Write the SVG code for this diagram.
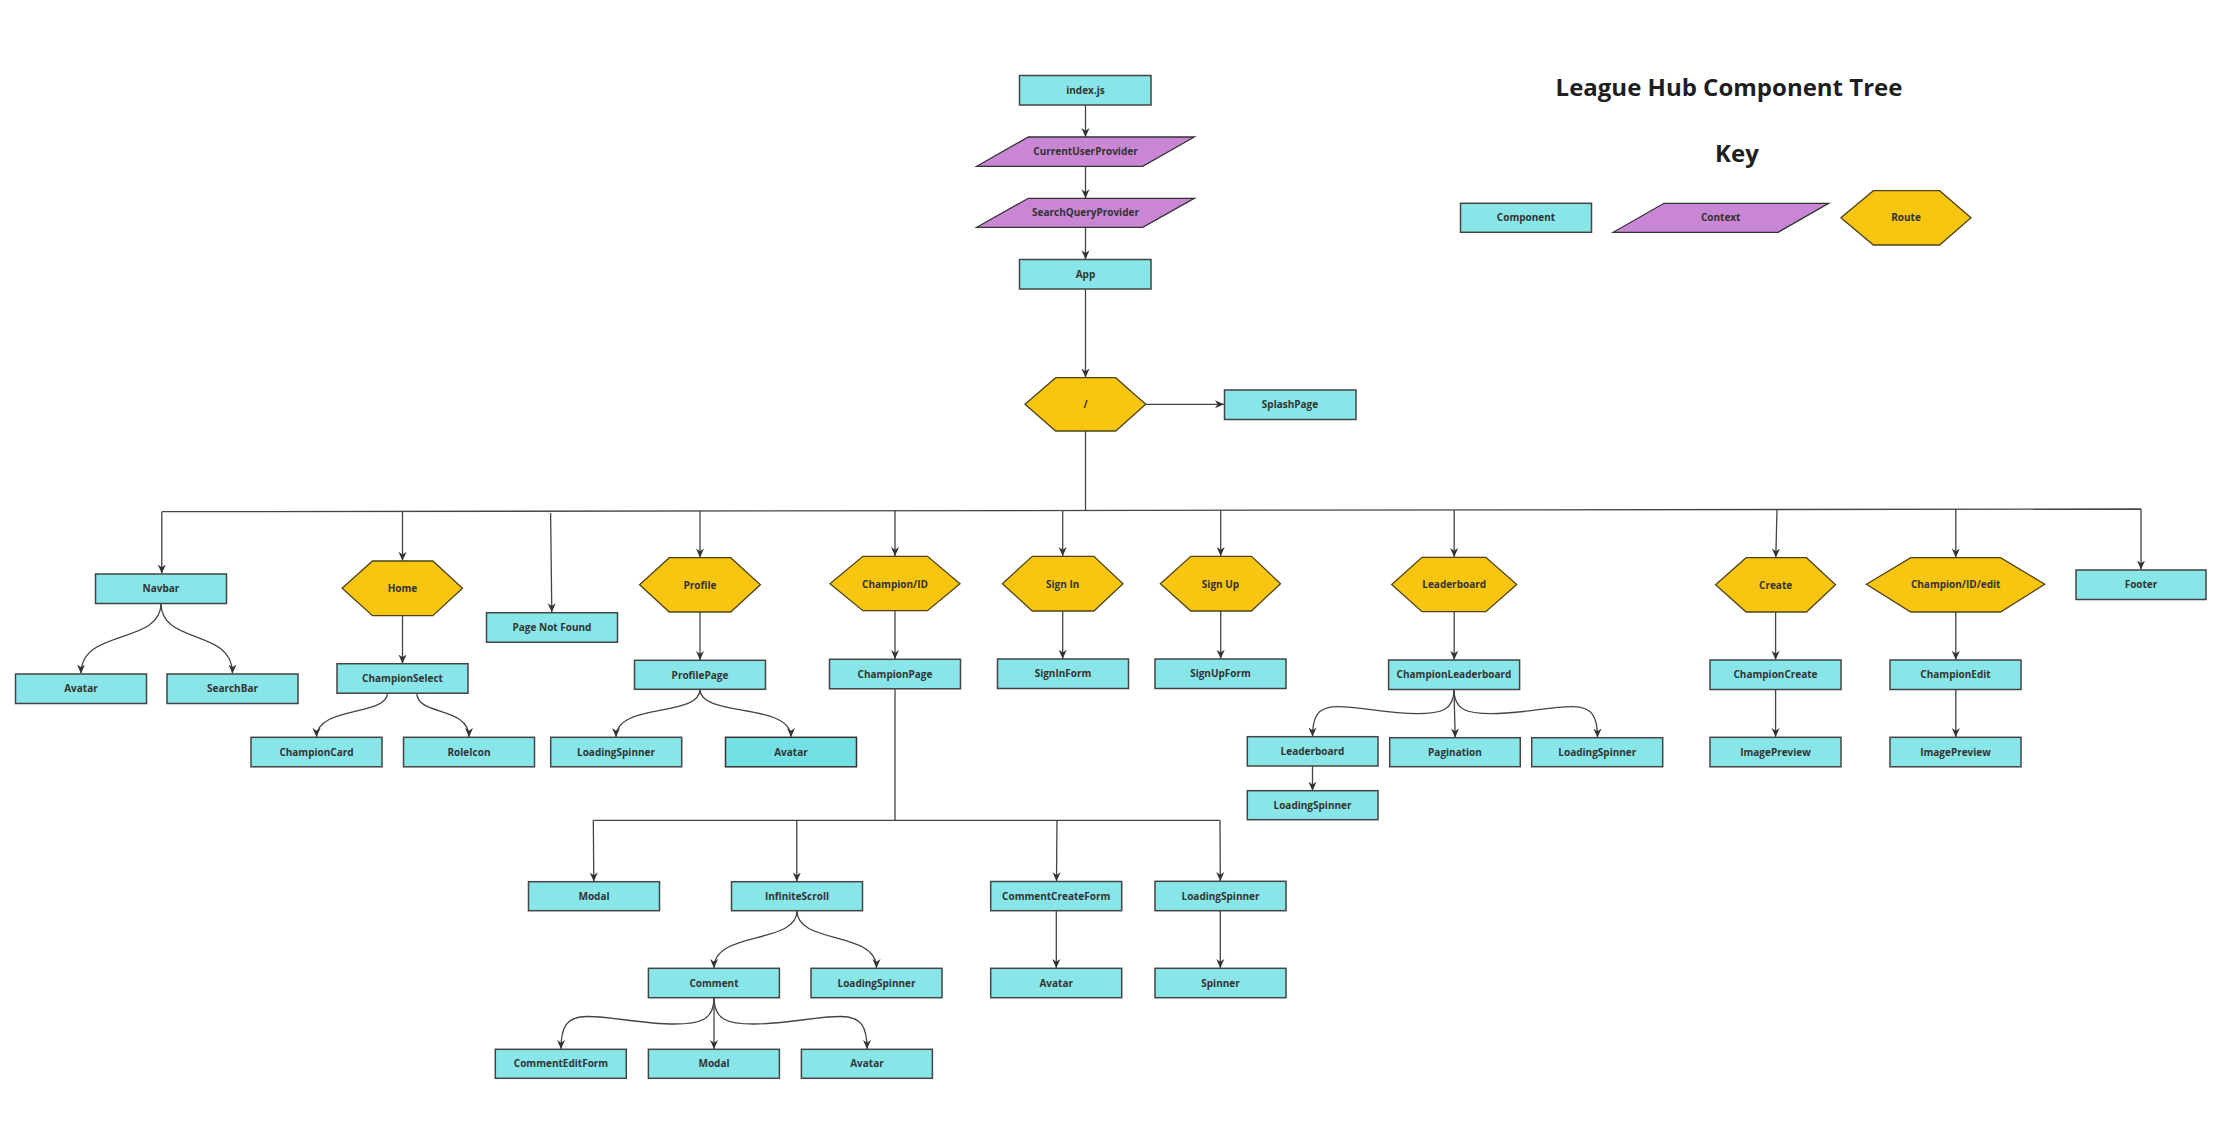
<svg xmlns="http://www.w3.org/2000/svg" width="2224" height="1147" viewBox="0 0 2224 1147">
<style>
.c{fill:#88e6e8;stroke:#444;stroke-width:1.5}
.cd{fill:#72e0e4;stroke:#333;stroke-width:1.5}
.p{fill:#c886d4;stroke:#333;stroke-width:1.3}
.h{fill:#f8c511;stroke:#4e431c;stroke-width:1.3}
.t{font-family:"Open Sans","Liberation Sans",sans-serif;font-weight:700;font-size:10px;fill:#333;text-anchor:middle}
.ttl{font-family:"Open Sans","Liberation Sans",sans-serif;font-weight:700;font-size:24px;fill:#1e1e1e;text-anchor:middle}
.e{fill:none;stroke:#444;stroke-width:1.3}
.a{marker-end:url(#arr)}
</style>
<defs>
<marker id="arr" viewBox="0 0 10 10" refX="10" refY="5" markerWidth="9" markerHeight="9" markerUnits="userSpaceOnUse" orient="auto">
<path d="M0,0.5 L10,5 L0,9.5 L3,5 Z" fill="#333"/>
</marker>
</defs>
<rect width="2224" height="1147" fill="#ffffff"/>

<g id="title">
<text class="ttl" x="1729" y="96">League Hub Component Tree</text>
<text class="ttl" x="1737" y="162">Key</text>
</g>

<g id="connectors">
<path class="e a" d="M1085.5,105 L1085.5,137"/>
<path class="e a" d="M1085.5,166.3 L1085.5,198.3"/>
<path class="e a" d="M1085.5,227.3 L1085.5,259.3"/>
<path class="e a" d="M1085.5,289.3 L1085.5,377.5"/>
<path class="e a" d="M1146,404.3 L1224,404.3"/>
<path class="e" d="M1085.5,431 L1085.5,510.4"/>
<path class="e" d="M161.8,511.7 L2141,509"/>
<path class="e a" d="M161.8,511.7 L161.8,573.5"/>
<path class="e a" d="M402.5,511.4 L402.5,560.8"/>
<path class="e a" d="M550.6,513 L551.8,612.3"/>
<path class="e a" d="M700,511 L700,557.5"/>
<path class="e a" d="M895,510.7 L895,556"/>
<path class="e a" d="M1062.7,510.5 L1062.7,556"/>
<path class="e a" d="M1220.7,510.3 L1220.7,556"/>
<path class="e a" d="M1454.2,510 L1454.2,557"/>
<path class="e a" d="M1777,509.5 L1775.8,557.5"/>
<path class="e a" d="M1955.8,509.3 L1955.8,557.5"/>
<path class="e a" d="M2141,509 L2141,569.5"/>

<path class="e a" d="M161,603.5 C161,645 81,628 81,673.5"/>
<path class="e a" d="M161,603.5 C161,645 232.5,628 232.5,673.5"/>
<path class="e a" d="M402.5,615.7 L402.5,663.5"/>
<path class="e a" d="M387.5,693 C387.5,716 316.5,706 316.5,737"/>
<path class="e a" d="M416.8,693 C416.8,716 469,706 469,737"/>
<path class="e a" d="M700,612 L700,660"/>
<path class="e a" d="M700,689.3 C700,718 616,702 616,737"/>
<path class="e a" d="M700,689.3 C700,718 791,702 791,737"/>
<path class="e a" d="M895,610.7 L895,659"/>
<path class="e a" d="M1062.7,611 L1062.7,658.8"/>
<path class="e a" d="M1220.7,611 L1220.7,658.8"/>
<path class="e a" d="M1454.2,611.7 L1454.2,659.8"/>
<path class="e a" d="M1454,689.5 C1454,710 1441.3,713.7 1417.2,713.7 C1386.1,713.7 1357.8,706.2 1336.6,706.7 C1317,707 1312.5,717.4 1312.5,736.5"/>
<path class="e a" d="M1454,689.5 L1455.2,737.5"/>
<path class="e a" d="M1454,689.5 C1454,710 1466.9,713.7 1491.3,713.7 C1522.9,713.7 1551.6,706.2 1573.1,706.7 C1592.7,707 1597.5,717.4 1597.5,737.5"/>
<path class="e a" d="M1312.5,766 L1312.5,790.7"/>
<path class="e a" d="M1775.6,612 L1775.6,659.8"/>
<path class="e a" d="M1775.6,689.3 L1775.6,737"/>
<path class="e a" d="M1955.8,612 L1955.8,659.8"/>
<path class="e a" d="M1955.8,689.3 L1955.8,737"/>

<path class="e" d="M895,688.7 L895,820.3"/>
<path class="e" d="M593.3,820.3 L1220,820.3"/>
<path class="e a" d="M593.3,820.3 L593.8,881.5"/>
<path class="e a" d="M796.8,820.3 L796.8,881.5"/>
<path class="e a" d="M1057,820.3 L1056.5,881.3"/>
<path class="e a" d="M1220,820.3 L1220.3,881"/>
<path class="e a" d="M797,910.7 C797,945 714,930 714,968"/>
<path class="e a" d="M797,910.7 C797,945 876.5,930 876.5,968"/>
<path class="e a" d="M1056.3,910.7 L1056.3,968"/>
<path class="e a" d="M1220.3,910.7 L1220.3,968"/>
<path class="e a" d="M714,997.7 C714,1020 700.2,1024 674.2,1024 C640.6,1024 610,1016 587,1016.5 C565.6,1016.5 561,1028 561,1049"/>
<path class="e a" d="M714,997.7 L714,1049"/>
<path class="e a" d="M714,997.7 C714,1020 727.8,1024 753.8,1024 C787.4,1024 818,1016 841,1016.5 C862.4,1016.5 867,1028 867,1049"/>
</g>

<g id="key-component"><rect class="c" x="1460.5" y="203.3" width="131" height="29"/><text class="t" x="1526" y="221.3">Component</text></g>
<g id="key-context"><polygon class="p" points="1664,203.3 1828.6,203.3 1778.1,232.3 1613.2,232.3"/><text class="t" x="1720.7" y="221.3">Context</text></g>
<g id="key-route"><polygon class="h" points="1840.9,217.7 1873.4,190.7 1939.6,190.7 1971,217.7 1939.6,245 1873.4,245"/><text class="t" x="1906" y="221.3">Route</text></g>

<g id="index"><rect class="c" x="1019.5" y="75.5" width="131.5" height="29.5"/><text class="t" x="1085.5" y="93.5">index.js</text></g>
<g id="currentuserprovider"><polygon class="p" points="1028.3,137 1194.3,137 1142.7,166.3 976.7,166.3"/><text class="t" x="1085.5" y="155.2">CurrentUserProvider</text></g>
<g id="searchqueryprovider"><polygon class="p" points="1028.3,198.3 1194.3,198.3 1142.7,227.3 976.7,227.3"/><text class="t" x="1085.5" y="216.3">SearchQueryProvider</text></g>
<g id="app"><rect class="c" x="1019.5" y="259.5" width="131.5" height="29.5"/><text class="t" x="1085.5" y="277.8">App</text></g>
<g id="root-route"><polygon class="h" points="1025,404.3 1055.7,377.7 1115.7,377.7 1145.7,404.3 1115.7,431 1055.7,431"/><text class="t" x="1085.5" y="408">/</text></g>
<g id="splashpage"><rect class="c" x="1224.5" y="390" width="131.5" height="29.5"/><text class="t" x="1290" y="408.3">SplashPage</text></g>

<g id="navbar"><rect class="c" x="95.5" y="574" width="131" height="29.5"/><text class="t" x="161" y="592.3">Navbar</text></g>
<g id="navbar-avatar"><rect class="c" x="15.5" y="674" width="131" height="29.5"/><text class="t" x="81" y="692.3">Avatar</text></g>
<g id="searchbar"><rect class="c" x="167" y="674" width="131" height="29.5"/><text class="t" x="232.5" y="692.3">SearchBar</text></g>

<g id="home"><polygon class="h" points="342.1,588.3 372.5,561 432.9,561 462.5,588.3 432.9,615.7 372.5,615.7"/><text class="t" x="402.5" y="592">Home</text></g>
<g id="championselect"><rect class="c" x="337" y="663.7" width="131" height="29.5"/><text class="t" x="402.5" y="682">ChampionSelect</text></g>
<g id="championcard"><rect class="c" x="251" y="737.3" width="131" height="29.5"/><text class="t" x="316.5" y="755.6">ChampionCard</text></g>
<g id="roleicon"><rect class="c" x="403.5" y="737.3" width="131" height="29.5"/><text class="t" x="469" y="755.6">RoleIcon</text></g>

<g id="pagenotfound"><rect class="c" x="486.5" y="612.7" width="131" height="29.5"/><text class="t" x="552" y="631">Page Not Found</text></g>

<g id="profile"><polygon class="h" points="639.6,584.7 669.3,557.7 730.7,557.7 760.4,584.7 730.7,612 669.3,612"/><text class="t" x="700" y="588.5">Profile</text></g>
<g id="profilepage"><rect class="c" x="634.5" y="660.3" width="131" height="29"/><text class="t" x="700" y="678.5">ProfilePage</text></g>
<g id="profile-loadingspinner"><rect class="c" x="550.7" y="737.3" width="131" height="29.5"/><text class="t" x="616" y="755.6">LoadingSpinner</text></g>
<g id="profile-avatar"><rect class="cd" x="725.5" y="737.3" width="131" height="29.5"/><text class="t" x="791" y="755.6">Avatar</text></g>

<g id="championid"><polygon class="h" points="830,583.7 862.9,556.3 927.5,556.3 960,583.7 927.5,610.7 862.9,610.7"/><text class="t" x="895" y="587.5">Champion/ID</text></g>
<g id="championpage"><rect class="c" x="829.5" y="659.3" width="131" height="29.5"/><text class="t" x="895" y="677.6">ChampionPage</text></g>

<g id="signin"><polygon class="h" points="1002.4,583.7 1032.3,556.3 1093.9,556.3 1123,583.7 1093.9,611 1032.3,611"/><text class="t" x="1062.7" y="587.5">Sign In</text></g>
<g id="signinform"><rect class="c" x="997.5" y="659" width="131" height="29.5"/><text class="t" x="1063" y="677.3">SignInForm</text></g>
<g id="signup"><polygon class="h" points="1160.4,583.7 1190.8,556.3 1251.5,556.3 1280.5,583.7 1251.5,611 1190.8,611"/><text class="t" x="1220.5" y="587.5">Sign Up</text></g>
<g id="signupform"><rect class="c" x="1155" y="659" width="131" height="29.5"/><text class="t" x="1220.5" y="677.3">SignUpForm</text></g>

<g id="leaderboard-route"><polygon class="h" points="1391.7,584.5 1422,557.3 1485.9,557.3 1516.7,584.5 1485.9,611.7 1422,611.7"/><text class="t" x="1454.2" y="588.3">Leaderboard</text></g>
<g id="championleaderboard"><rect class="c" x="1388.6" y="660" width="131" height="29.5"/><text class="t" x="1454" y="678.3">ChampionLeaderboard</text></g>
<g id="leaderboard"><rect class="c" x="1247.3" y="736.7" width="130.7" height="29.3"/><text class="t" x="1312.5" y="754.8">Leaderboard</text></g>
<g id="pagination"><rect class="c" x="1389.7" y="737.7" width="130.6" height="29"/><text class="t" x="1455" y="755.8">Pagination</text></g>
<g id="lb-loadingspinner"><rect class="c" x="1531.7" y="737.7" width="131" height="29"/><text class="t" x="1597.3" y="755.8">LoadingSpinner</text></g>
<g id="lb-loadingspinner2"><rect class="c" x="1247.3" y="790.7" width="130.7" height="29"/><text class="t" x="1312.5" y="808.8">LoadingSpinner</text></g>

<g id="create"><polygon class="h" points="1715.6,584.7 1746.1,557.7 1806.5,557.7 1835.5,584.7 1806.5,612 1746.1,612"/><text class="t" x="1775.6" y="588.5">Create</text></g>
<g id="championcreate"><rect class="c" x="1710" y="660" width="131" height="29.5"/><text class="t" x="1775.5" y="678.3">ChampionCreate</text></g>
<g id="create-imagepreview"><rect class="c" x="1710" y="737.3" width="131" height="29.5"/><text class="t" x="1775.5" y="755.6">ImagePreview</text></g>

<g id="championidedit"><polygon class="h" points="1866.4,584.3 1910.8,557.7 2000.5,557.7 2044.8,584.3 2000.5,612 1910.8,612"/><text class="t" x="1955.7" y="588">Champion/ID/edit</text></g>
<g id="championedit"><rect class="c" x="1890" y="660" width="131" height="29.5"/><text class="t" x="1955.5" y="678.3">ChampionEdit</text></g>
<g id="edit-imagepreview"><rect class="c" x="1890" y="737.3" width="131" height="29.5"/><text class="t" x="1955.5" y="755.6">ImagePreview</text></g>

<g id="footer"><rect class="c" x="2076" y="570" width="130" height="29.5"/><text class="t" x="2141" y="588.3">Footer</text></g>

<g id="modal"><rect class="c" x="528.5" y="881.7" width="131" height="29"/><text class="t" x="594" y="899.8">Modal</text></g>
<g id="infinitescroll"><rect class="c" x="731.5" y="881.7" width="131" height="29"/><text class="t" x="797" y="899.8">InfiniteScroll</text></g>
<g id="commentcreateform"><rect class="c" x="990.7" y="881.5" width="131" height="29.2"/><text class="t" x="1056.2" y="899.7">CommentCreateForm</text></g>
<g id="cp-loadingspinner"><rect class="c" x="1155" y="881.3" width="131" height="29.4"/><text class="t" x="1220.5" y="899.6">LoadingSpinner</text></g>
<g id="comment"><rect class="c" x="648.4" y="968.3" width="131" height="29.4"/><text class="t" x="714" y="986.6">Comment</text></g>
<g id="is-loadingspinner"><rect class="c" x="811" y="968.3" width="131" height="29.4"/><text class="t" x="876.5" y="986.6">LoadingSpinner</text></g>
<g id="ccf-avatar"><rect class="c" x="990.7" y="968.3" width="131" height="29.4"/><text class="t" x="1056.2" y="986.6">Avatar</text></g>
<g id="spinner"><rect class="c" x="1155" y="968.3" width="131" height="29.4"/><text class="t" x="1220.5" y="986.6">Spinner</text></g>
<g id="commenteditform"><rect class="c" x="495.3" y="1049.3" width="131" height="29"/><text class="t" x="561" y="1067.4">CommentEditForm</text></g>
<g id="comment-modal"><rect class="c" x="648.4" y="1049.3" width="131" height="29"/><text class="t" x="714" y="1067.4">Modal</text></g>
<g id="comment-avatar"><rect class="c" x="801.4" y="1049.3" width="131" height="29"/><text class="t" x="867" y="1067.4">Avatar</text></g>
</svg>
